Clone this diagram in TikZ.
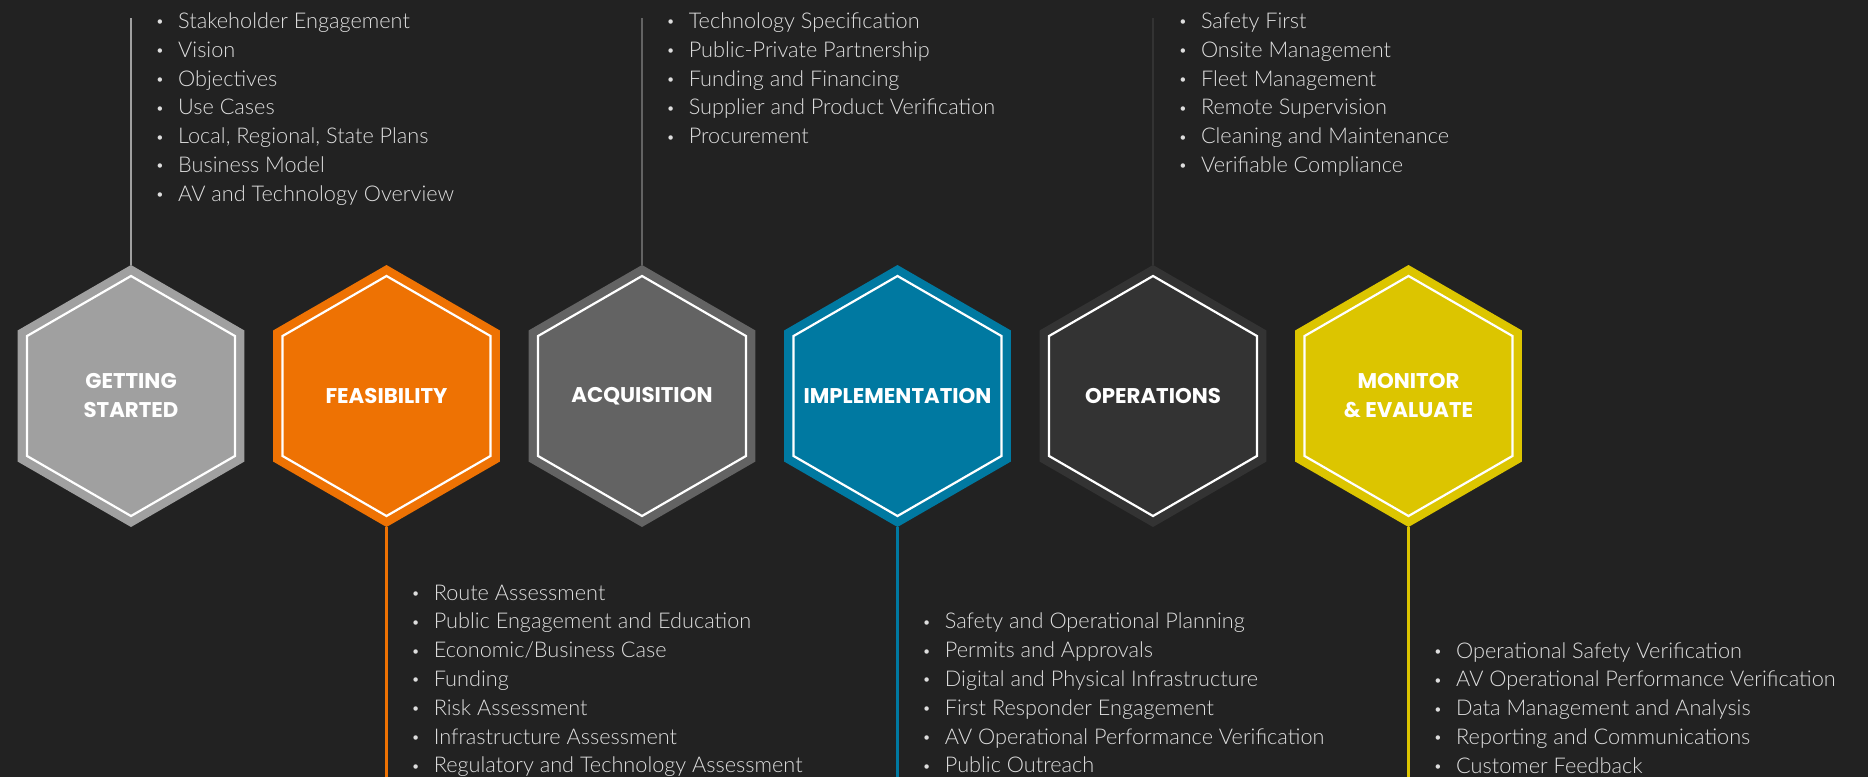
\documentclass[tikz,border=0pt]{standalone}
\usepackage{fontspec}
\usetikzlibrary{shapes.geometric}
\newfontfamily\listfont{Lato Light}
\newfontfamily\hexfont{Poppins Bold}
\definecolor{bg}{HTML}{222222}
\definecolor{cgs}{HTML}{A0A0A0}
\definecolor{cfe}{HTML}{EE7203}
\definecolor{cac}{HTML}{636363}
\definecolor{cim}{HTML}{0079A1}
\definecolor{cop}{HTML}{333333}
\definecolor{cmo}{HTML}{DCC500}
\definecolor{txt}{HTML}{DEDEDE}
\tikzset{
  hexout/.style={regular polygon, regular polygon sides=6, shape border rotate=90,
    minimum size=262pt, inner sep=0pt, outer sep=0pt, fill=#1, draw=none},
  hexin/.style={regular polygon, regular polygon sides=6, shape border rotate=90,
    minimum size=240pt, inner sep=0pt, outer sep=0pt, draw=white, line width=2.2pt},
  hexlab/.style={inner sep=0pt, text=white, align=center,
    font=\hexfont\fontsize{21.3}{29}\selectfont},
  item/.style={anchor=base west, inner sep=0pt, text=txt,
    font=\listfont\fontsize{21.7}{24}\selectfont},
  stem/.style={line width=2.8pt, draw=#1},
}
\newcommand{\bul}{\makebox[21pt][l]{\hspace{-1.5pt}\raisebox{1.6pt}{\fontsize{15}{15}\selectfont•}}}
\begin{document}
\begin{tikzpicture}[x=1pt,y=-1pt]
\fill[bg] (0,0) rectangle (1868,777);
\useasboundingbox (0,0) rectangle (1868,777);

% hexagons
\node[hexout=cgs] (h1) at (131,396) {};
\node[hexout=cfe] (h2) at (386.5,396) {};
\node[hexout=cac] (h3) at (642,396) {};
\node[hexout=cim] (h4) at (897.5,396) {};
\node[hexout=cop] (h5) at (1153,396) {};
\node[hexout=cmo] (h6) at (1408.5,396) {};
\foreach \i in {1,...,6} \node[hexin] (in\i) at (h\i.center) {};
\node[hexlab] (l1) at (h1.center) {GETTING\\STARTED};
\node[hexlab] (l2) at (h2.center) {FEASIBILITY};
\node[hexlab] (l3) at (h3.center) {ACQUISITION};
\node[hexlab] (l4) at (h4.center) {IMPLEMENTATION};
\node[hexlab] (l5) at (h5.center) {OPERATIONS};
\node[hexlab] (l6) at (h6.center) {MONITOR\\\&\ EVALUATE};

% stems
\coordinate (t1) at (131,18);
\coordinate (t3) at (642,18);
\coordinate (t5) at (1153,18);
\coordinate (b2) at (386.5,777);
\coordinate (b4) at (897.5,777);
\coordinate (b6) at (1408.5,777);
\draw[stem=cgs] (h1.north) -- (t1);
\draw[stem=cac] (h3.north) -- (t3);
\draw[stem=cop] (h5.north) -- (t5);
\draw[stem=cfe] (h2.south) -- (b2);
\draw[stem=cim] (h4.south) -- (b4);
\draw[stem=cmo] (h6.south) -- (b6);

% lists
\foreach \t [count=\i] in {Stakeholder Engagement, Vision, Objectives, Use Cases,
  {Local, Regional, State Plans}, Business Model, AV and Technology Overview}
  \node[item] (gs\i) at (157,28.3+28.85*\i-28.85) {\bul\t};
\foreach \t [count=\i] in {Technology Specification, Public-Private Partnership,
  Funding and Financing, Supplier and Product Verification, Procurement}
  \node[item] (ac\i) at (667.6,28.3+28.85*\i-28.85) {\bul\t};
\foreach \t [count=\i] in {Safety First, Onsite Management, Fleet Management,
  Remote Supervision, Cleaning and Maintenance, Verifiable Compliance}
  \node[item] (op\i) at (1179.8,28.3+28.85*\i-28.85) {\bul\t};
\foreach \t [count=\i] in {Route Assessment, Public Engagement and Education,
  Economic/Business Case, Funding, Risk Assessment, Infrastructure Assessment,
  Regulatory and Technology Assessment}
  \node[item] (fe\i) at (412.6,600+28.8*\i-28.8) {\bul\t};
\foreach \t [count=\i] in {Safety and Operational Planning, Permits and Approvals,
  Digital and Physical Infrastructure, First Responder Engagement,
  AV Operational Performance Verification, Public Outreach}
  \node[item] (im\i) at (923.7,628.8+28.8*\i-28.8) {\bul\t};
\foreach \t [count=\i] in {Operational Safety Verification,
  AV Operational Performance Verification, Data Management and Analysis,
  Reporting and Communications, Customer Feedback}
  \node[item] (mo\i) at (1435,658+28.8*\i-28.8) {\bul\t};
\end{tikzpicture}
\end{document}
